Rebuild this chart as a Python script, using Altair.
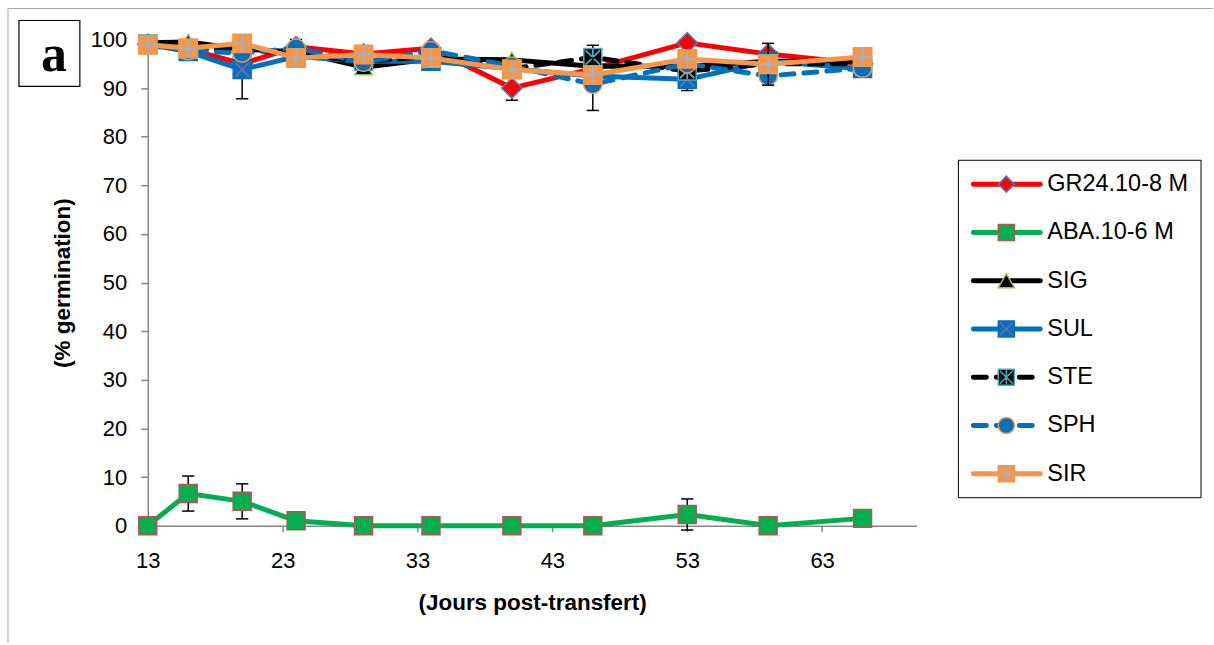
import altair as alt
import pandas as pd

# ---------------- data ----------------
days = [13, 16, 20, 24, 29, 34, 40, 46, 53, 59, 66]
names = ["GR24.10-8 M", "ABA.10-6 M", "SIG", "SUL", "STE", "SPH", "SIR"]

gr24 = [99.0, 98.0, 95.0, 98.5, 97.0, 98.2, 90.0, 94.0, 99.3, 97.0, 95.0]
aba = [0.0, 6.6, 5.0, 1.0, 0.0, 0.0, 0.0, 0.0, 2.3, 0.0, 1.5]
sig = [99.3, 99.5, 98.0, 97.5, 94.3, 96.0, 95.8, 94.5, 94.5, 95.5, 95.5]
sul = [99.0, 97.5, 93.8, 96.5, 95.5, 95.5, 94.0, 92.5, 91.8, 95.5, 94.0]
ste = [99.0, 98.0, 98.0, 97.0, 95.5, 96.5, 94.0, 96.3, 93.5, 95.0, 95.0]
sph = [98.8, 97.7, 97.2, 98.2, 95.3, 97.7, 94.5, 90.8, 95.0, 92.5, 94.1]
sir = [98.9, 98.2, 99.2, 96.2, 96.9, 96.2, 93.8, 92.7, 96.0, 94.9, 96.4]

gr24_err = [0, 0, 0, 1.5, 0, 0, 2.5, 0, 0, 0, 0]
aba_err = [0, 3.6, 3.6, 0, 0, 0, 0, 0, 3.2, 0, 0]
sig_err = [0, 0, 0, 0, 0, 0, 0, 0, 0, 0, 0]
sul_err = [0, 0, 6.0, 0, 0, 0, 0, 0, 2.3, 0, 0]
ste_err = [0, 0, 0, 0, 0, 0, 0, 2.5, 0, 0, 0]
sph_err = [0, 0, 0, 0, 0, 0, 0, 5.4, 0, 0, 0]
sir_err = [0, 0, 0, 0, 0, 0, 0, 0, 0, 4.3, 0]

x_ticks = [13, 23, 33, 43, 53, 63]
y_ticks = [0, 10, 20, 30, 40, 50, 60, 70, 80, 90, 100]

values = dict(zip(names, [gr24, aba, sig, sul, ste, sph, sir]))
errors = dict(zip(names, [gr24_err, aba_err, sig_err, sul_err, ste_err, sph_err, sir_err]))

# ---------------- styles ----------------
GLYPH_X = "M-0.8,-0.8L0.8,0.8M-0.8,0.8L0.8,-0.8"
GLYPH_STAR = "M-0.8,-0.8L0.8,0.8M-0.8,0.8L0.8,-0.8M0,-0.9L0,0.9"
GLYPH_PLUS = "M-1,0L1,0M0,-1L0,1"
styles = {
    "GR24.10-8 M": dict(line="#FF0000", dash=None, shape="diamond", fill="#FF0000", stroke="#4F81BD", size=420, glyph=None, gcol=None),
    "ABA.10-6 M": dict(line="#00B050", dash=None, shape="square", fill="#00B050", stroke="#C0504D", size=324, glyph=None, gcol=None),
    "SIG": dict(line="#000000", dash=None, shape="triangle-up", fill="#000000", stroke="#9BBB59", size=300, glyph=None, gcol=None),
    "SUL": dict(line="#0070C0", dash=None, shape="square", fill="#0070C0", stroke="#0070C0", size=324, glyph=GLYPH_X, gcol="#8064A2"),
    "STE": dict(line="#000000", dash=[13, 10], shape="square", fill="#000000", stroke="#4BACC6", size=324, glyph=GLYPH_STAR, gcol="#4BACC6"),
    "SPH": dict(line="#0070C0", dash=[13, 10], shape="circle", fill="#0070C0", stroke="#F79646", size=340, glyph=None, gcol=None),
    "SIR": dict(line="#F79646", dash=None, shape="square", fill="#F79646", stroke="#F79646", size=340, glyph=GLYPH_PLUS, gcol="#95B3D7"),
}

AX = "#868686"
FONT = "Liberation Sans"

rows = []
for n in names:
    for d, v, e in zip(days, values[n], errors[n]):
        rows.append(dict(series=n, day=d, v=v, err=e, lo=v - e, hi=v + e))
df = pd.DataFrame(rows)

xs = alt.Scale(domain=[13, 70], nice=False, zero=False)
ys = alt.Scale(domain=[0, 100], nice=False, zero=True)
x_axis = alt.Axis(values=x_ticks, title="(Jours post-transfert)", grid=False, tickSize=6,
                  labelPadding=19, titlePadding=20, labelFontSize=22, labelFlush=False)
y_axis = alt.Axis(values=y_ticks, title="(% germination)", grid=False, tickSize=7,
                  labelPadding=14, titlePadding=16, labelFontSize=22)


def X(field="day"):
    return alt.X(f"{field}:Q", scale=xs, axis=x_axis)


def Y(field="v"):
    return alt.Y(f"{field}:Q", scale=ys, axis=y_axis)


layers = []
for n in names:
    st = styles[n]
    sub = df[df.series == n]
    line_kw = dict(color=st["line"], strokeWidth=5, strokeJoin="round")
    if st["dash"]:
        line_kw.update(strokeDash=st["dash"], strokeCap="round")
    layers.append(alt.Chart(sub).mark_line(**line_kw).encode(x=X(), y=Y()))
    err = sub[sub.err > 0]
    if len(err):
        layers.append(alt.Chart(err).mark_rule(color="black", strokeWidth=1.5).encode(
            x=X(), y=Y("lo"), y2="hi:Q"))
        caps = pd.concat([err.assign(v=err.lo), err.assign(v=err.hi)])
        layers.append(alt.Chart(caps).mark_point(shape="M-1,0L1,0", filled=False, color="black",
                                                 strokeWidth=1.5, size=150, opacity=1).encode(x=X(), y=Y()))
    layers.append(alt.Chart(sub).mark_point(shape=st["shape"], filled=True, fill=st["fill"],
                                            stroke=st["stroke"], strokeWidth=1.5, size=st["size"],
                                            opacity=1).encode(x=X(), y=Y()))
    if st["glyph"]:
        layers.append(alt.Chart(sub).mark_point(shape=st["glyph"], filled=False, stroke=st["gcol"],
                                                strokeWidth=1.8, size=st["size"], opacity=1).encode(x=X(), y=Y()))

main = alt.layer(*layers)

# ---------------- legend ----------------
leg_df = pd.DataFrame({"name": names, "li": list(range(len(names)))})
ly = alt.Y("li:Q", scale=alt.Scale(domain=[0, 6], range=[145, 435]), axis=None)
one = pd.DataFrame({"k": [0]})
leg_layers = [alt.Chart(one).mark_rect(fill="white", stroke="black", strokeWidth=1).encode(
    x=alt.value(812), x2=alt.value(1055), y=alt.value(121), y2=alt.value(459))]
for n in names:
    st = styles[n]
    sub = leg_df[leg_df.name == n]
    kw = dict(color=st["line"], strokeWidth=5, strokeCap="round")
    if st["dash"]:
        kw.update(strokeDash=[13, 10])
    leg_layers.append(alt.Chart(sub).mark_rule(**kw).encode(x=alt.value(827), x2=alt.value(894), y=ly))
    leg_layers.append(alt.Chart(sub).mark_point(shape=st["shape"], filled=True, fill=st["fill"],
                                                stroke=st["stroke"], strokeWidth=1.5, size=260,
                                                opacity=1).encode(x=alt.value(860), y=ly))
    if st["glyph"]:
        leg_layers.append(alt.Chart(sub).mark_point(shape=st["glyph"], filled=False, stroke=st["gcol"],
                                                    strokeWidth=1.5, size=260, opacity=1).encode(
            x=alt.value(860), y=ly))
leg_layers.append(alt.Chart(leg_df).mark_text(align="left", baseline="middle", font=FONT,
                                              fontSize=23.5, color="black").encode(
    x=alt.value(901), y=ly, text="name:N"))
legend = alt.layer(*leg_layers)

# ---------------- decorations ----------------
decor = alt.layer(
    alt.Chart(one).mark_rule(color="#A6A6A6", strokeWidth=1).encode(
        x=alt.value(-140), x2=alt.value(1067), y=alt.value(-31)),
    alt.Chart(one).mark_rule(color="#A6A6A6", strokeWidth=1).encode(
        x=alt.value(-140), y=alt.value(-31), y2=alt.value(604)),
    alt.Chart(one).mark_rect(fill="white", stroke="black", strokeWidth=1.2).encode(
        x=alt.value(-129), x2=alt.value(-68), y=alt.value(-19), y2=alt.value(47)),
    alt.Chart(pd.DataFrame({"t": ["a"]})).mark_text(font="Liberation Serif", fontWeight="bold",
                                                   fontSize=52, baseline="alphabetic", align="center",
                                                   color="black").encode(
        x=alt.value(-94), y=alt.value(32), text="t:N"),
)

chart = alt.layer(main, legend, decor).resolve_scale(y="independent").properties(
    width=770, height=487,
    padding={"left": 7, "top": 7, "right": 0, "bottom": 0},
    background="white",
).configure_view(stroke=None).configure_axis(
    labelFont=FONT, labelColor="black", titleFont=FONT, titleFontWeight="bold",
    titleFontSize=22.5, titleColor="black", domainColor=AX, tickColor=AX,
    domainWidth=1.5, tickWidth=1.5,
)

chart.save("out.html", embed_options={"renderer": "svg", "actions": False})
